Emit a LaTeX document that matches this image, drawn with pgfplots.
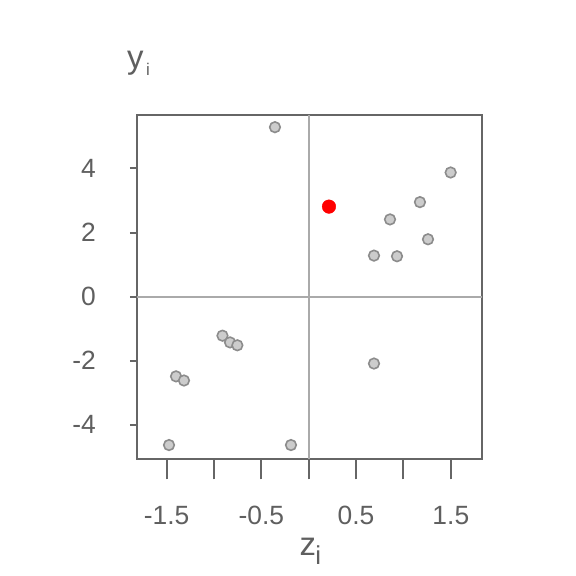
\documentclass[border=0pt]{standalone}
\usepackage{pgfplots}
\pgfplotsset{compat=1.18}
\usepackage{fontspec}
\setmainfont{Liberation Sans}
\definecolor{txt}{HTML}{5F5F5F}
\definecolor{axcol}{HTML}{666666}
\definecolor{refcol}{HTML}{AAAAAA}
\definecolor{ptfill}{HTML}{CCCCCC}
\definecolor{ptedge}{HTML}{8C8C8C}
\begin{document}
\begin{tikzpicture}
\useasboundingbox (-136.7bp,-116.7bp) rectangle (439.3bp,459.3bp);
\begin{axis}[
    scale only axis,
    width=345.6bp, height=344.3bp,
    xmin=-1.815, xmax=1.832,
    ymin=-5.08, ymax=5.67,
    axis line style={axcol, line width=2bp},
    tick align=outside,
    tick style={axcol, line width=2bp},
    xtick={-1.5,-1,-0.5,0,0.5,1,1.5},
    xticklabels={-1.5,,-0.5,,0.5,,1.5},
    ytick={-4,-2,0,2,4},
    yticklabels={-4,-2,0,2,4},
    xtick style={/pgfplots/major tick length=20bp},
    ytick style={/pgfplots/major tick length=6.7bp},
    xtick pos=bottom, ytick pos=left,
    tick label style={font=\fontsize{26.5}{26.5}\selectfont, text=txt, inner sep=0pt},
    x tick label style={anchor=base, yshift=-60.7bp},
    y tick label style={anchor=east, xshift=-36.5bp},
    clip=false,
]
\addplot[refcol, line width=1.8bp] coordinates {(0,-5.08) (0,5.67)};
\addplot[refcol, line width=1.8bp] coordinates {(-1.815,0) (1.832,0)};
\addplot[only marks, mark=*, mark size=5.3bp,
    mark options={fill=ptfill, draw=ptedge, line width=1.6bp}] coordinates {
    (-0.356,5.29)
    (1.498,3.875)
    (1.174,2.95)
    (0.858,2.41)
    (1.259,1.79)
    (0.689,1.28)
    (0.932,1.26)
    (-0.910,-1.22)
    (-0.830,-1.43)
    (-0.753,-1.52)
    (-1.400,-2.49)
    (-1.316,-2.62)
    (0.689,-2.09)
    (-1.474,-4.635)
    (-0.187,-4.635)
};
\addplot[only marks, mark=*, mark size=6.8bp, color=red,
    mark options={fill=red, draw=none}] coordinates {(0.214,2.81)};
\end{axis}
\node[anchor=base west, inner sep=0pt, text=txt, font=\fontsize{33}{33}\selectfont] at (-9.7bp,390.5bp)
    {y\hspace{2.5bp}\raisebox{-6.9bp}{\fontsize{17}{17}\selectfont i}};
\node[anchor=base west, inner sep=0pt, text=txt, font=\fontsize{33}{33}\selectfont] at (162.6bp,-95.7bp)
    {z\hspace{-0.5bp}\raisebox{-9.3bp}{\fontsize{26}{26}\selectfont i}};
\end{tikzpicture}
\end{document}
